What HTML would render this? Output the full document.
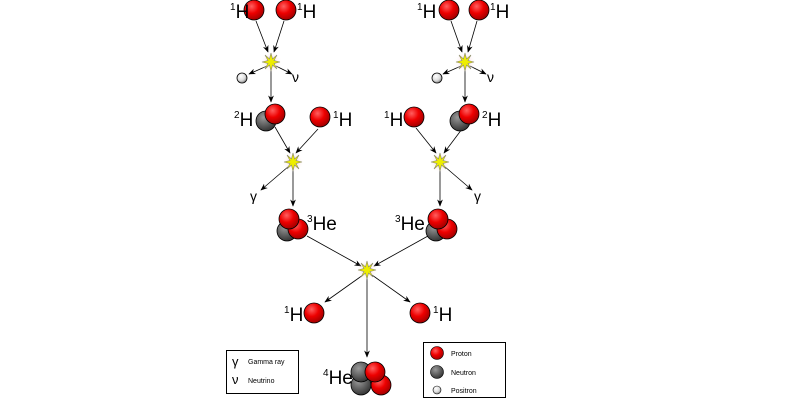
<!DOCTYPE html>
<html><head><meta charset="utf-8"><style>
html,body{margin:0;padding:0;background:#fff;}
svg{display:block;font-family:"Liberation Sans",sans-serif;}
</style></head><body>
<svg width="800" height="400" viewBox="0 0 800 400">
<defs>
<radialGradient id="r" cx="0.38" cy="0.32" r="0.7"><stop offset="0" stop-color="#ff6060"/><stop offset="0.5" stop-color="#ee0000"/><stop offset="1" stop-color="#a00000"/></radialGradient>
<radialGradient id="n" cx="0.38" cy="0.32" r="0.7"><stop offset="0" stop-color="#999"/><stop offset="0.5" stop-color="#666"/><stop offset="1" stop-color="#333"/></radialGradient>
<radialGradient id="p" cx="0.38" cy="0.32" r="0.7"><stop offset="0" stop-color="#fff"/><stop offset="0.6" stop-color="#ddd"/><stop offset="1" stop-color="#888"/></radialGradient>
<radialGradient id="g" cx="0.5" cy="0.5" r="0.5"><stop offset="0" stop-color="#f8c8c8"/><stop offset="1" stop-color="#fff" stop-opacity="0"/></radialGradient>
<marker id="a" viewBox="0 0 10 10" refX="9" refY="5" markerWidth="9" markerHeight="9" orient="auto"><path d="M0,1 L10,5 L0,9 L3,5z" fill="#000"/></marker>
<g id="star"><circle r="11" fill="url(#g)"/><path d="M0,-9 L1.5,-3 L6,-7 L3,-1.5 L9,0 L3,1.5 L6,7 L1.5,3 L0,9 L-1.5,3 L-6,7 L-3,1.5 L-9,0 L-3,-1.5 L-6,-7 L-1.5,-3z" fill="#ee0" stroke="#886" stroke-width="0.6"/></g>
</defs>
<g stroke="#000" stroke-width="0.8" fill="none" marker-end="url(#a)">
<line x1="256" y1="21" x2="268" y2="52"/><line x1="284" y1="21" x2="274" y2="52"/>
<line x1="267" y1="66" x2="249" y2="74"/><line x1="276" y1="66" x2="292" y2="74"/>
<line x1="271" y1="68" x2="271" y2="102"/>
<line x1="275" y1="127" x2="290" y2="153"/><line x1="318" y1="129" x2="296" y2="153"/>
<line x1="289" y1="166" x2="261" y2="190"/><line x1="293" y1="168" x2="293" y2="206"/>
<line x1="451" y1="21" x2="462" y2="52"/><line x1="477" y1="21" x2="468" y2="52"/>
<line x1="461" y1="66" x2="443" y2="74"/><line x1="470" y1="66" x2="486" y2="74"/>
<line x1="465" y1="68" x2="465" y2="102"/>
<line x1="416" y1="128" x2="436" y2="153"/><line x1="462" y1="129" x2="444" y2="153"/>
<line x1="444" y1="166" x2="472" y2="190"/><line x1="440" y1="168" x2="440" y2="206"/>
<line x1="307" y1="236" x2="361" y2="266"/><line x1="428" y1="236" x2="374" y2="266"/>
<line x1="363" y1="275" x2="325" y2="302"/><line x1="372" y1="275" x2="410" y2="302"/>
<line x1="367" y1="276" x2="367" y2="357"/>
</g>
<use href="#star" x="271" y="62"/><use href="#star" x="465" y="62"/>
<use href="#star" x="293" y="162"/><use href="#star" x="440" y="162"/>
<use href="#star" x="367" y="270"/>
<g stroke="#000" stroke-width="0.8">
<circle cx="254" cy="10" r="10" fill="url(#r)"/><circle cx="286" cy="10" r="10" fill="url(#r)"/>
<circle cx="449" cy="10" r="10" fill="url(#r)"/><circle cx="479" cy="10" r="10" fill="url(#r)"/>
<circle cx="242" cy="78" r="5" fill="url(#p)"/><circle cx="437" cy="78" r="5" fill="url(#p)"/>
<circle cx="266" cy="121" r="10" fill="url(#n)"/><circle cx="275" cy="114" r="10" fill="url(#r)"/>
<circle cx="320" cy="117" r="10" fill="url(#r)"/>
<circle cx="460" cy="121" r="10" fill="url(#n)"/><circle cx="469" cy="114" r="10" fill="url(#r)"/>
<circle cx="414" cy="117" r="10" fill="url(#r)"/>
<circle cx="287" cy="231" r="10" fill="url(#n)"/><circle cx="298" cy="229" r="10" fill="url(#r)"/><circle cx="289" cy="219" r="10" fill="url(#r)"/>
<circle cx="436" cy="231" r="10" fill="url(#n)"/><circle cx="447" cy="229" r="10" fill="url(#r)"/><circle cx="438" cy="219" r="10" fill="url(#r)"/>
<circle cx="314" cy="313" r="10" fill="url(#r)"/><circle cx="420" cy="313" r="10" fill="url(#r)"/>
<circle cx="361" cy="385" r="10" fill="url(#n)"/><circle cx="361" cy="372" r="10" fill="url(#n)"/>
<circle cx="381" cy="385" r="10" fill="url(#r)"/><circle cx="375" cy="372" r="10" fill="url(#r)"/>
</g>
<g font-size="19" fill="#000">
<text x="230" y="18"><tspan font-size="10" dy="-8">1</tspan><tspan dy="8">H</tspan></text>
<text x="297" y="18"><tspan font-size="10" dy="-8">1</tspan><tspan dy="8">H</tspan></text>
<text x="417" y="18"><tspan font-size="10" dy="-8">1</tspan><tspan dy="8">H</tspan></text>
<text x="490" y="18"><tspan font-size="10" dy="-8">1</tspan><tspan dy="8">H</tspan></text>
<text x="234" y="126"><tspan font-size="10" dy="-8">2</tspan><tspan dy="8">H</tspan></text>
<text x="333" y="126"><tspan font-size="10" dy="-8">1</tspan><tspan dy="8">H</tspan></text>
<text x="384" y="126"><tspan font-size="10" dy="-8">1</tspan><tspan dy="8">H</tspan></text>
<text x="482" y="126"><tspan font-size="10" dy="-8">2</tspan><tspan dy="8">H</tspan></text>
<text x="307" y="230"><tspan font-size="10" dy="-8">3</tspan><tspan dy="8">He</tspan></text>
<text x="395" y="230"><tspan font-size="10" dy="-8">3</tspan><tspan dy="8">He</tspan></text>
<text x="284" y="321"><tspan font-size="10" dy="-8">1</tspan><tspan dy="8">H</tspan></text>
<text x="433" y="321"><tspan font-size="10" dy="-8">1</tspan><tspan dy="8">H</tspan></text>
<text x="323" y="384"><tspan font-size="10" dy="-8">4</tspan><tspan dy="8">He</tspan></text>
</g>
<g font-size="14" fill="#000">
<text x="292" y="82">ν</text><text x="487" y="82">ν</text>
<text x="250" y="201">γ</text><text x="474" y="201">γ</text>
</g>
<rect x="226.5" y="350.5" width="72" height="43" fill="#fff" stroke="#000"/>
<text x="232" y="366" font-size="13">γ</text>
<text x="248" y="364" font-size="7">Gamma ray</text>
<text x="232" y="384" font-size="13">ν</text>
<text x="248" y="383" font-size="7">Neutrino</text>
<rect x="423.5" y="342.5" width="82" height="55" fill="#fff" stroke="#000"/>
<circle cx="437" cy="353" r="6.5" fill="url(#r)" stroke="#000" stroke-width="0.6"/>
<circle cx="437" cy="372" r="6.5" fill="url(#n)" stroke="#000" stroke-width="0.6"/>
<circle cx="437" cy="390" r="4" fill="url(#p)" stroke="#000" stroke-width="0.6"/>
<g font-size="7"><text x="451" y="356">Proton</text><text x="451" y="375">Neutron</text><text x="451" y="393">Positron</text></g>
</svg>
</body></html>
